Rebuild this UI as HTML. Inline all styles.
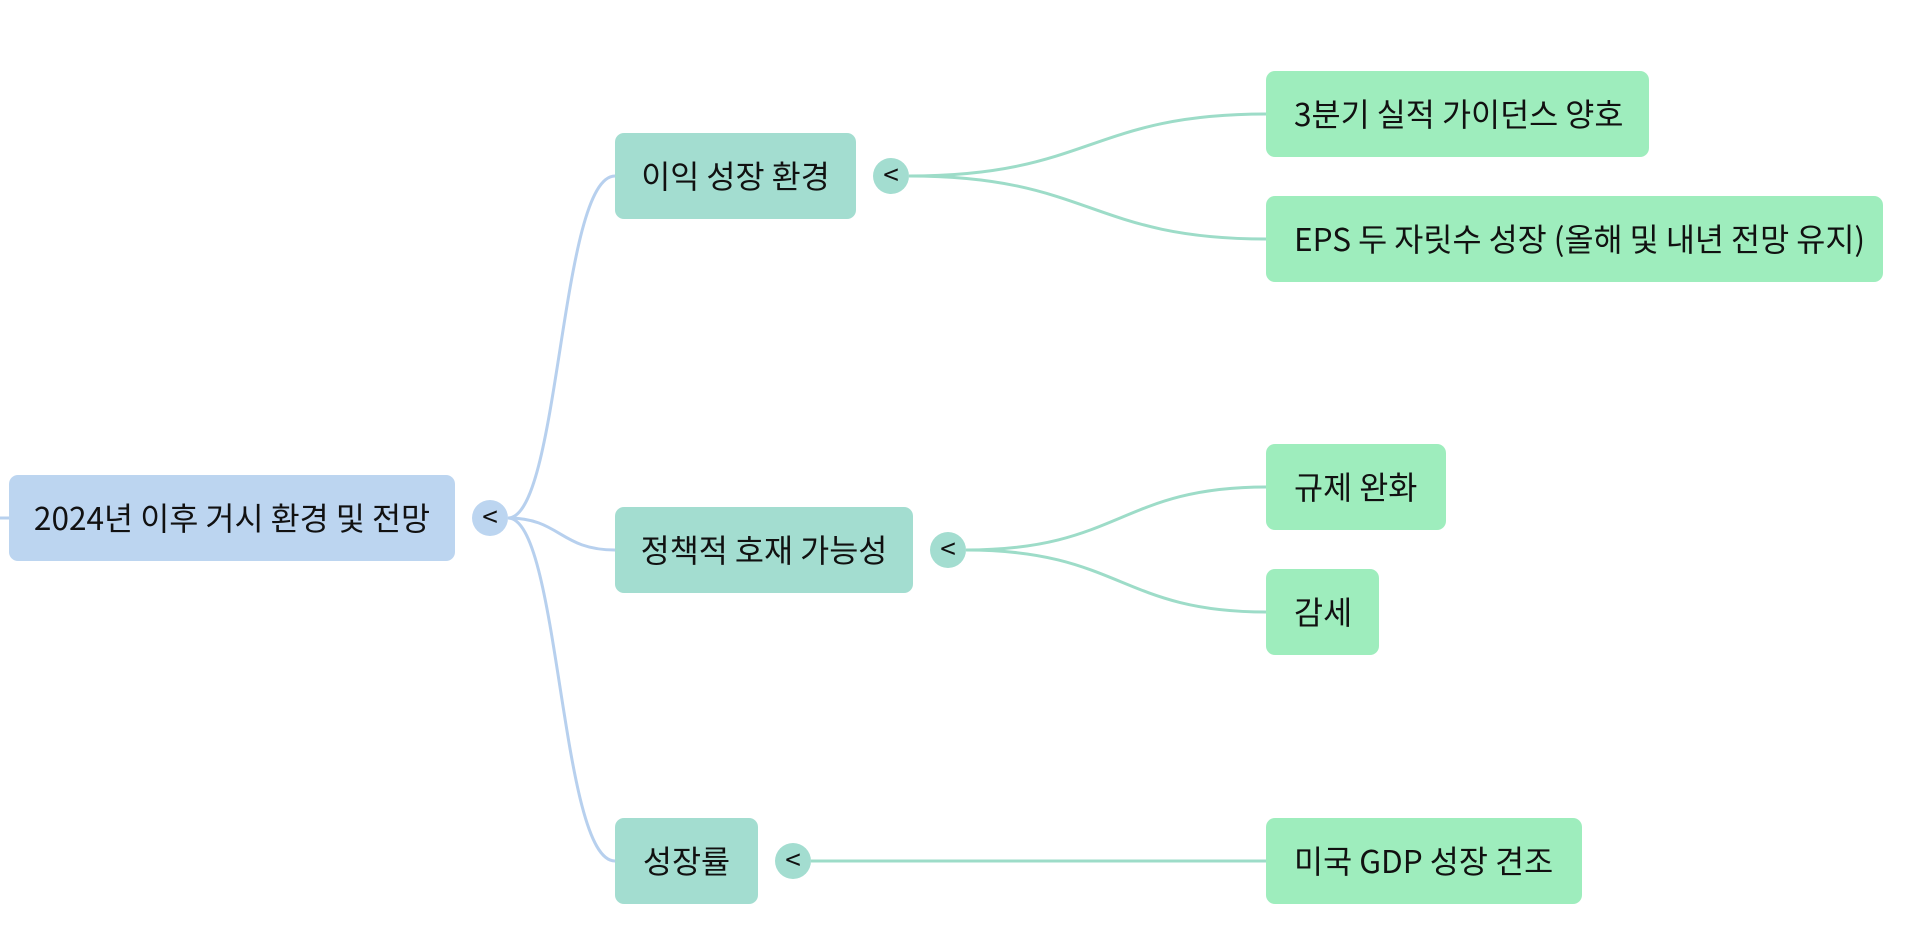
<!DOCTYPE html>
<html><head><meta charset="utf-8"><style>
body{margin:0;width:1920px;height:945px;background:#fff;overflow:hidden;position:relative;font-family:"Noto Sans CJK KR","Liberation Sans",sans-serif;}
.n{position:absolute;border-radius:9px;display:flex;align-items:center;justify-content:center;font-size:31.6px;color:#111;box-sizing:border-box;white-space:nowrap;padding-bottom:3px}
.r{background:#bcd5f0}.m{background:#a3ddd0}.l{background:#9eedbd;justify-content:flex-start;padding-left:28px}
.c{position:absolute;width:36px;height:36px;border-radius:50%;display:flex;align-items:center;justify-content:center;font-size:28px;color:#111;box-sizing:border-box;padding-bottom:4px}
svg{position:absolute;left:0;top:0}
</style></head><body>
<svg width="1920" height="945" fill="none" stroke-width="3">
<g stroke="#b7d0ee">
<path d="M0 518 H9"/>
<path d="M508 518 C560 518 560 176 615 176"/>
<path d="M508 518 C560 518 560 550 615 550"/>
<path d="M508 518 C560 518 560 861 615 861"/>
</g>
<g stroke="#9ddcc8">
<path d="M909 176 C1090 176 1090 114 1266 114"/>
<path d="M909 176 C1090 176 1090 239 1266 239"/>
<path d="M966 550 C1120 550 1120 487 1266 487"/>
<path d="M966 550 C1120 550 1120 612 1266 612"/>
<path d="M811 861 H1266"/>
</g>
</svg>
<div class="n r" style="left:9px;top:475px;width:446px;height:86px">2024년 이후 거시 환경 및 전망</div>
<div class="c" style="left:472px;top:500px;background:#bcd5f0">&lt;</div>
<div class="n m" style="left:615px;top:133px;width:241px;height:86px">이익 성장 환경</div>
<div class="c" style="left:873px;top:158px;background:#a3ddd0">&lt;</div>
<div class="n m" style="left:615px;top:507px;width:298px;height:86px">정책적 호재 가능성</div>
<div class="c" style="left:930px;top:532px;background:#a3ddd0">&lt;</div>
<div class="n m" style="left:615px;top:818px;width:143px;height:86px">성장률</div>
<div class="c" style="left:775px;top:843px;background:#a3ddd0">&lt;</div>
<div class="n l" style="left:1266px;top:71px;width:383px;height:86px">3분기 실적 가이던스 양호</div>
<div class="n l" style="left:1266px;top:196px;width:617px;height:86px">EPS 두 자릿수 성장 (올해 및 내년 전망 유지)</div>
<div class="n l" style="left:1266px;top:444px;width:180px;height:86px">규제 완화</div>
<div class="n l" style="left:1266px;top:569px;width:113px;height:86px">감세</div>
<div class="n l" style="left:1266px;top:818px;width:316px;height:86px">미국 GDP 성장 견조</div>
</body></html>
